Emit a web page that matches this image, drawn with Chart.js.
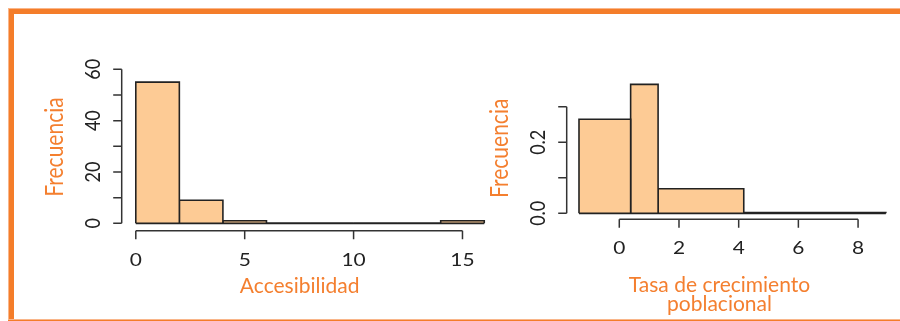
<!DOCTYPE html>
<html>
<head>
<meta charset="utf-8">
<title>Histogramas: Accesibilidad y Tasa de crecimiento poblacional</title>
<script src="https://cdn.jsdelivr.net/npm/chart.js@4"></script>
<style>
  html, body { margin: 0; padding: 0; background: #ffffff; }
  #wrap { position: relative; width: 900px; height: 321px; overflow: hidden; background: #ffffff; }
  #wrap canvas { position: absolute; left: 0; top: 0; }
  .band { position: absolute; background: #F47D2A; }
  .edge { position: absolute; background: #F9B68A; }
</style>
</head>
<body>
<div id="wrap">
  <canvas id="accChart" width="900" height="321"></canvas>
  <canvas id="tasaChart" width="900" height="321"></canvas>
  <!-- orange frame -->
  <div class="edge" style="left:8px;top:8px;width:892px;height:1px"></div>
  <div class="band" style="left:8px;top:9px;width:892px;height:5px"></div>
  <div class="edge" style="left:8px;top:9px;width:1px;height:312px"></div>
  <div class="band" style="left:9px;top:9px;width:5px;height:312px"></div>
  <div class="edge" style="left:8px;top:319px;width:892px;height:1px"></div>
  <div class="band" style="left:8px;top:320px;width:892px;height:1px"></div>
</div>
<script>
// Accesibilidad: bin edges and counts
const accBreaks = [0, 2, 4, 6, 8, 10, 12, 14, 16];
const accCounts = [55, 9, 1, 0, 0, 0, 0, 1];
const accXTicks = [0, 5, 10, 15];
const accYTicks = [0, 10, 20, 30, 40, 50, 60];
const accYTickLabels = ['0', '', '20', '', '40', '', '60'];

// Tasa de crecimiento poblacional: bin edges and densities
const tasaBreaks = [-1.35, 0.38, 1.30, 4.17, 8.93];
const tasaDensity = [0.265, 0.363, 0.069, 0.002];
const tasaXTicks = [0, 2, 4, 6, 8];
const tasaYTicks = [0, 0.1, 0.2, 0.3];
const tasaYTickLabels = ['0.0', '', '0.2', ''];

const BAR_FILL = '#FDCB95';
const BAR_EDGE = '#222222';
const AXIS_COLOR = '#333333';
const TICK_TEXT = '#222222';
const TITLE_TEXT = '#F47F2F';
const FONT = 'Lato, "Open Sans", sans-serif';
const STRETCH = 1.16;   // horizontal stretch of the axis lettering
const TICK_LEN = 8.5;

// One closed rectangle per bin, plus a baseline along the bottom edge
function histogramDatasets(breaks, heights) {
  const sets = [{
    data: [{ x: breaks[0], y: 0 }, { x: breaks[breaks.length - 1], y: 0 }],
    fill: false,
    borderColor: BAR_EDGE,
    borderWidth: 1.8,
    pointRadius: 0,
    tension: 0
  }];
  heights.forEach((h, i) => {
    sets.push({
      data: [
        { x: breaks[i], y: 0 },
        { x: breaks[i], y: h },
        { x: breaks[i + 1], y: h },
        { x: breaks[i + 1], y: 0 }
      ],
      fill: 'origin',
      backgroundColor: BAR_FILL,
      borderColor: BAR_EDGE,
      borderWidth: 1.6,
      borderJoinStyle: 'miter',
      pointRadius: 0,
      tension: 0
    });
  });
  return sets;
}

function drawText(ctx, text, x, y, angle, sx) {
  ctx.save();
  ctx.translate(x, y);
  ctx.scale(sx, 1);
  ctx.rotate(angle);
  ctx.fillText(text, 0, 0);
  ctx.restore();
}

// Axes in the classic base-graphics style: detached lines spanning the tick range
const baseAxes = {
  id: 'baseAxes',
  afterDraw(chart, args, o) {
    const { ctx, chartArea } = chart;
    const xs = chart.scales.x, ys = chart.scales.y;
    const axY = chartArea.bottom, axX = chartArea.left;
    ctx.save();
    ctx.strokeStyle = AXIS_COLOR;
    ctx.lineWidth = 1.5;
    ctx.lineCap = 'butt';
    ctx.beginPath();
    const xa = xs.getPixelForValue(o.xTicks[0]);
    const xb = xs.getPixelForValue(o.xTicks[o.xTicks.length - 1]);
    ctx.moveTo(xa, axY); ctx.lineTo(xb, axY);
    o.xTicks.forEach(v => {
      const p = xs.getPixelForValue(v);
      ctx.moveTo(p, axY); ctx.lineTo(p, axY + TICK_LEN);
    });
    const ya = ys.getPixelForValue(o.yTicks[0]);
    const yb = ys.getPixelForValue(o.yTicks[o.yTicks.length - 1]);
    ctx.moveTo(axX, ya); ctx.lineTo(axX, yb);
    o.yTicks.forEach(v => {
      const p = ys.getPixelForValue(v);
      ctx.moveTo(axX, p); ctx.lineTo(axX - TICK_LEN, p);
    });
    ctx.stroke();

    ctx.fillStyle = TICK_TEXT;
    ctx.font = '18px ' + FONT;
    ctx.textAlign = 'center';
    ctx.textBaseline = 'alphabetic';
    o.xTicks.forEach(v => {
      drawText(ctx, String(v), xs.getPixelForValue(v), axY + 35, 0, STRETCH);
    });
    o.yTicks.forEach((v, i) => {
      const label = o.yTickLabels[i];
      if (label) drawText(ctx, label, axX - 21.5, ys.getPixelForValue(v), -Math.PI / 2, STRETCH);
    });

    ctx.fillStyle = TITLE_TEXT;
    ctx.font = '21px ' + FONT;
    const cy = (chartArea.top + chartArea.bottom) / 2 + o.yTitleShift;
    drawText(ctx, o.yTitle, axX - 58.4, cy, -Math.PI / 2, STRETCH);
    const cx = (chartArea.left + chartArea.right) / 2 + o.xTitleShift;
    o.xTitle.forEach((line, i) => {
      drawText(ctx, line, cx, axY + o.xTitleBase + i * 19.3, 0, 1);
    });
    ctx.restore();
  }
};

function makeHistogram(canvasId, breaks, heights, cfg) {
  return new Chart(document.getElementById(canvasId), {
    type: 'line',
    data: { datasets: histogramDatasets(breaks, heights) },
    options: {
      responsive: false,
      animation: false,
      events: [],
      devicePixelRatio: 1,
      layout: { padding: cfg.padding },
      scales: {
        x: { type: 'linear', display: false, min: cfg.xRange[0], max: cfg.xRange[1] },
        y: { type: 'linear', display: false, min: cfg.yRange[0], max: cfg.yRange[1] }
      },
      plugins: {
        legend: { display: false },
        tooltip: { enabled: false },
        baseAxes: cfg.axes
      }
    },
    plugins: [baseAxes]
  });
}

makeHistogram('accChart', accBreaks, accCounts, {
  padding: { left: 121.7, right: 401.8, top: 76.5, bottom: 90.3 },
  xRange: [-0.647, 16.64],
  yRange: [-2.88, 57.2],
  axes: {
    xTicks: accXTicks,
    yTicks: accYTicks,
    yTickLabels: accYTickLabels,
    yTitle: 'Frecuencia',
    yTitleShift: -6.6,
    xTitle: ['Accesibilidad'],
    xTitleShift: -10.3,
    xTitleBase: 62.6
  }
});

makeHistogram('tasaChart', tasaBreaks, tasaDensity, {
  padding: { left: 566.7, right: 1.9, top: 79.1, bottom: 101.7 },
  xRange: [-1.762, 9.341],
  yRange: [-0.0169, 0.3779],
  axes: {
    xTicks: tasaXTicks,
    yTicks: tasaYTicks,
    yTickLabels: tasaYTickLabels,
    yTitle: 'Frecuencia',
    yTitleShift: -0.9,
    xTitle: ['Tasa de crecimiento', 'poblacional'],
    xTitleShift: -12.9,
    xTitleBase: 72.4
  }
});
</script>
</body>
</html>
